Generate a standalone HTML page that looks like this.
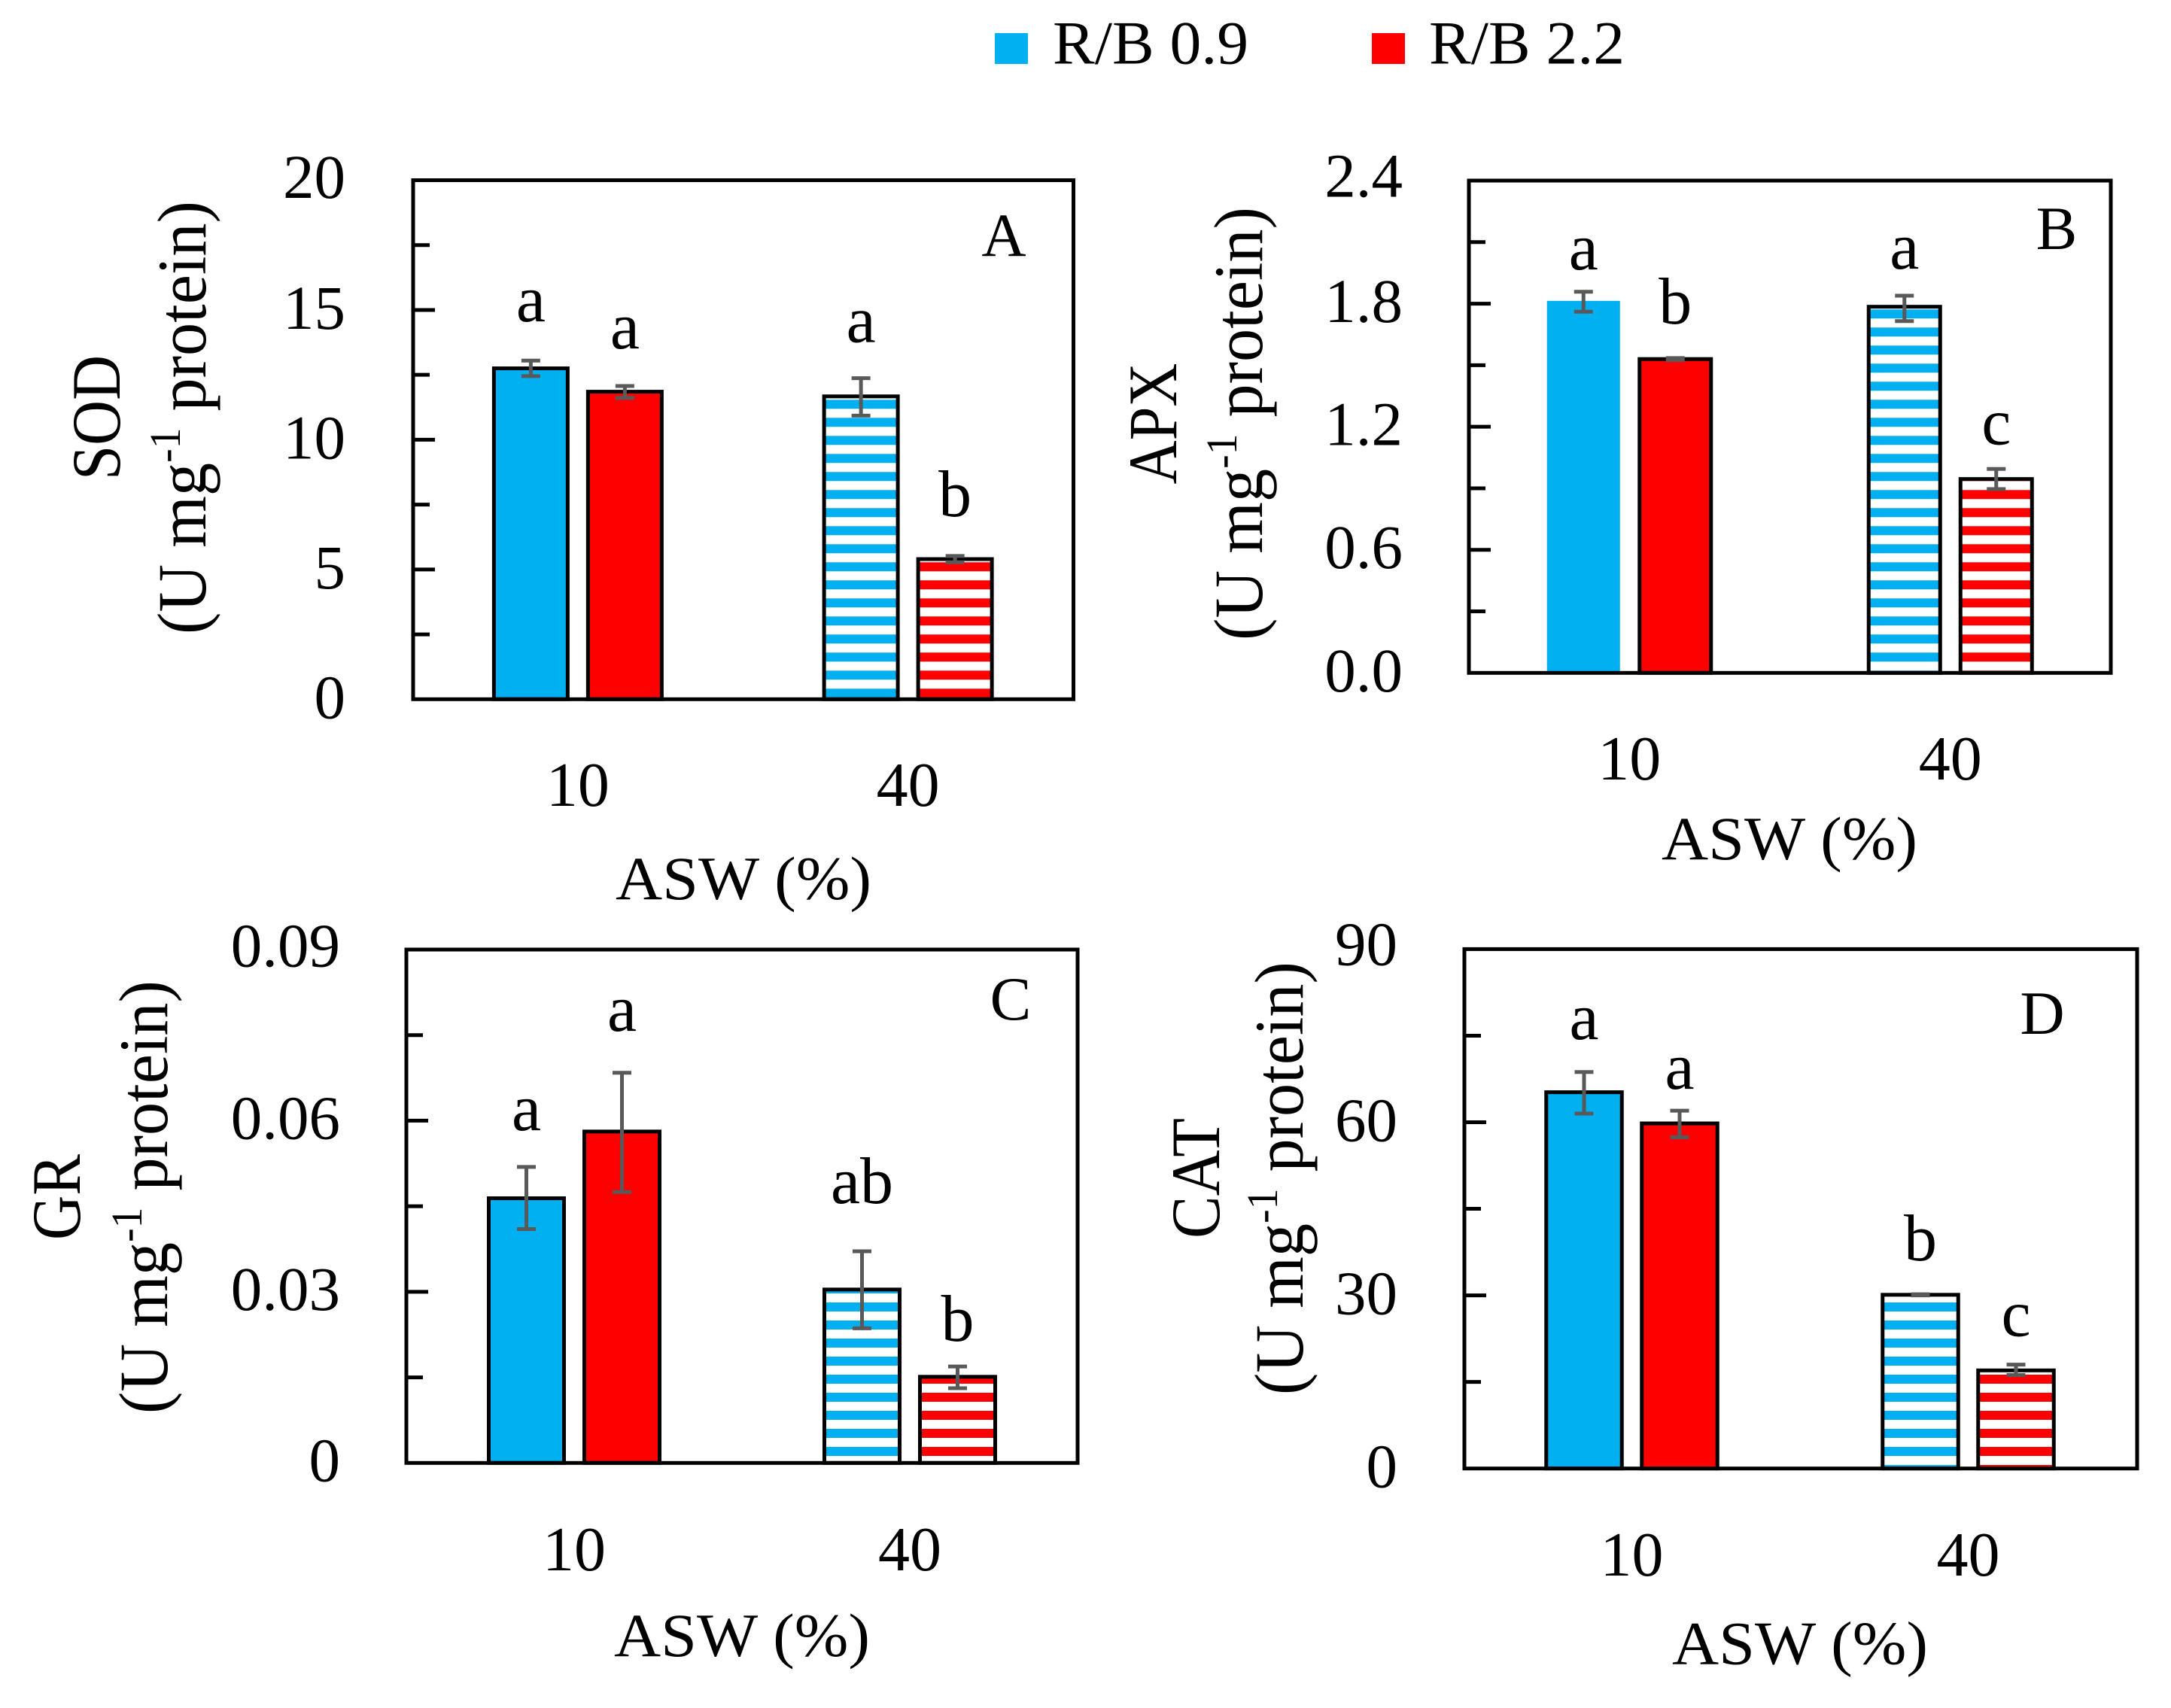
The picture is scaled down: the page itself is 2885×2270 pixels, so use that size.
<!DOCTYPE html>
<html lang="en">
<head>
<meta charset="utf-8">
<title>Antioxidant enzyme activity by ASW and R/B ratio</title>
<style>
html,body{margin:0;padding:0;background:#fff;}
body{width:2885px;height:2270px;overflow:hidden;}
svg{display:block;}
text{font-family:"Liberation Serif",serif;fill:#000;}
</style>
</head>
<body>
<svg id="figure" xmlns="http://www.w3.org/2000/svg" width="2885" height="2270" viewBox="0 0 2885 2270">
  <rect x="0" y="0" width="2885" height="2270" fill="#ffffff"/>
  <defs>
    <pattern id="stripe-blue-a" patternUnits="userSpaceOnUse" width="24" height="24" patternTransform="translate(0 927.3)"><rect width="24" height="24" fill="#fff"/><rect y="12" width="24" height="12" fill="#00b0f0"/></pattern>
    <pattern id="stripe-red-a" patternUnits="userSpaceOnUse" width="24" height="24" patternTransform="translate(0 927.3)"><rect width="24" height="24" fill="#fff"/><rect y="12" width="24" height="12" fill="#ff0000"/></pattern>
    <pattern id="stripe-blue-b" patternUnits="userSpaceOnUse" width="24" height="24" patternTransform="translate(0 879.3)"><rect width="24" height="24" fill="#fff"/><rect y="12" width="24" height="12" fill="#00b0f0"/></pattern>
    <pattern id="stripe-red-b" patternUnits="userSpaceOnUse" width="24" height="24" patternTransform="translate(0 879.3)"><rect width="24" height="24" fill="#fff"/><rect y="12" width="24" height="12" fill="#ff0000"/></pattern>
    <pattern id="stripe-blue-c" patternUnits="userSpaceOnUse" width="24" height="24" patternTransform="translate(0 1935)"><rect width="24" height="24" fill="#fff"/><rect y="12" width="24" height="12" fill="#00b0f0"/></pattern>
    <pattern id="stripe-red-c" patternUnits="userSpaceOnUse" width="24" height="24" patternTransform="translate(0 1935)"><rect width="24" height="24" fill="#fff"/><rect y="12" width="24" height="12" fill="#ff0000"/></pattern>
    <pattern id="stripe-blue-d" patternUnits="userSpaceOnUse" width="24" height="24" patternTransform="translate(0 1935)"><rect width="24" height="24" fill="#fff"/><rect y="12" width="24" height="12" fill="#00b0f0"/></pattern>
    <pattern id="stripe-red-d" patternUnits="userSpaceOnUse" width="24" height="24" patternTransform="translate(0 1935)"><rect width="24" height="24" fill="#fff"/><rect y="12" width="24" height="12" fill="#ff0000"/></pattern>
  </defs>
  <g>
    <g>
      <rect x="1322" y="44" width="44" height="41" fill="#00b0f0"/>
      <text x="1399" y="84.5" font-size="82" textLength="260" lengthAdjust="spacingAndGlyphs">R/B 0.9</text>
    </g>
    <g>
      <rect x="1823" y="44" width="44" height="41" fill="#ff0000"/>
      <text x="1899" y="84.5" font-size="82" textLength="260" lengthAdjust="spacingAndGlyphs">R/B 2.2</text>
    </g>
  </g>
</svg>
<script>
// Shared categories and series
var categories = ['10', '40'];
var seriesNames = ['R/B 0.9', 'R/B 2.2'];

// Panel A: SOD (order: 10 R/B 0.9, 10 R/B 2.2, 40 R/B 0.9, 40 R/B 2.2)
var sodValues = [12.75, 11.85, 11.67, 5.4];
var sodErrUp = [0.30, 0.22, 0.70, 0.12];
var sodErrDown = [0.30, 0.24, 0.74, 0.12];
var sodLetters = ['a', 'a', 'a', 'b'];
var sodTicks = ['0', '5', '10', '15', '20'];

// Panel B: APX
var apxValues = [1.81, 1.53, 1.785, 0.945];
var apxErrUp = [0.048, 0.005, 0.054, 0.049];
var apxErrDown = [0.049, 0.005, 0.07, 0.049];
var apxLetters = ['a', 'b', 'a', 'c'];
var apxTicks = ['0.0', '0.6', '1.2', '1.8', '2.4'];

// Panel C: GR
var grValues = [0.0464, 0.0581, 0.0304, 0.0151];
var grErrUp = [0.0055, 0.0103, 0.0067, 0.0018];
var grErrDown = [0.0054, 0.0106, 0.0068, 0.0020];
var grLetters = ['a', 'a', 'ab', 'b'];
var grTicks = ['0', '0.03', '0.06', '0.09'];

// Panel D: CAT
var catValues = [65.2, 59.8, 30.1, 17.0];
var catErrUp = [3.5, 2.2, 0.1, 1.0];
var catErrDown = [3.7, 2.4, 0.1, 0.8];
var catLetters = ['a', 'a', 'b', 'c'];
var catTicks = ['0', '30', '60', '90'];

var SVGNS = 'http://www.w3.org/2000/svg';
var root = document.getElementById('figure');

function make(parent, tag, attrs, txt) {
  var el = document.createElementNS(SVGNS, tag);
  for (var k in attrs) { el.setAttribute(k, attrs[k]); }
  if (txt !== undefined) { el.textContent = txt; }
  parent.appendChild(el);
  return el;
}

function fitWidth(el, target) {
  var natural = el.getComputedTextLength();
  return target / natural;
}

function drawPanel(p) {
  var g = make(root, 'g', {});
  
  

  var w = p.right - p.left;
  var yMax = parseFloat(p.ticks[p.ticks.length - 1]);
  function yScale(v) { return p.bottom - (v / yMax) * (p.bottom - p.top); }
  function groupX(i) { return p.left + (i + 0.5) * w / categories.length + p.xShift; }

  // Bars
  p.values.forEach(function (v, i) {
    var cat = Math.floor(i / seriesNames.length);
    var ser = i % seriesNames.length;
    var cx = groupX(cat) + (ser === 0 ? -p.offset : p.offset);
    var colour = ser === 0 ? '#00b0f0' : '#ff0000';
    var fill = cat === 0 ? colour : 'url(#stripe-' + (ser === 0 ? 'blue' : 'red') + '-' + p.key + ')';
    var plain = p.plainFirst && i === 0;
    var bar = make(g, 'rect', {
      x: cx - p.barW / 2, y: yScale(v), width: p.barW, height: p.bottom - yScale(v),
      fill: fill, stroke: plain ? colour : '#000000', 'stroke-width': plain ? 2 : 5
    });
    
    
  });

  // Error bars
  p.values.forEach(function (v, i) {
    var cat = Math.floor(i / seriesNames.length);
    var ser = i % seriesNames.length;
    var cx = groupX(cat) + (ser === 0 ? -p.offset : p.offset);
    var hi = yScale(v + p.errUp[i]);
    var lo = yScale(v - p.errDown[i]);
    var eb = make(g, 'path', {
      d: 'M' + (cx - 12.5) + ' ' + hi + 'H' + (cx + 12.5) + 'M' + cx + ' ' + hi + 'V' + lo + 'M' + (cx - 12.5) + ' ' + lo + 'H' + (cx + 12.5),
      fill: 'none', stroke: '#595959', 'stroke-width': 5
    });
    
    

    var letter = make(g, 'text', {
      x: cx, y: hi - p.letterGap[i], 'font-size': 88, 'text-anchor': 'middle'
    }, p.letters[i]);
    
    
  });

  // Plot frame
  var frame = make(g, 'rect', {
    x: p.left, y: p.top, width: w, height: p.bottom - p.top,
    fill: 'none', stroke: '#000000', 'stroke-width': 5
  });
  
  

  // Y ticks (major with minor between)
  var step = yMax / (p.ticks.length - 1);
  p.ticks.forEach(function (label, i) {
    var val = parseFloat(label);
    var ty = yScale(val);
    if (i > 0 && i < p.ticks.length - 1) {
      var major = make(g, 'line', { x1: p.left, x2: p.left + 29, y1: ty, y2: ty, stroke: '#000', 'stroke-width': 5 });
      
      
    }
    if (i < p.ticks.length - 1) {
      var my = yScale(val + step / 2);
      var minor = make(g, 'line', { x1: p.left, x2: p.left + 22, y1: my, y2: my, stroke: '#000', 'stroke-width': 5 });
      
      
    }
    var lift = i === p.ticks.length - 1 ? p.topLift : 0;
    var tl = make(g, 'text', { x: p.tickRight, y: ty + p.tickDy - lift, 'font-size': 83, 'text-anchor': 'end' }, label);
    
    
  });

  // X labels
  categories.forEach(function (c, i) {
    var xl = make(g, 'text', { x: groupX(i), y: p.xLabelY, 'font-size': 84, 'text-anchor': 'middle' }, c);
    
    
  });

  // X title
  var xt = make(g, 'text', { x: p.xTitleX, y: p.xTitleY, 'font-size': 82, 'text-anchor': 'middle', textLength: 340, lengthAdjust: 'spacingAndGlyphs' }, 'ASW (%)');
  
  

  // Panel letter
  var pl = make(g, 'text', { x: p.letterX, y: p.letterY, 'font-size': 82, 'text-anchor': 'middle' }, p.key.toUpperCase());
  
  

  // Y titles
  var t1 = make(g, 'text', { 'font-size': 92, 'text-anchor': 'middle' }, p.name);
  
  
  t1.setAttribute('transform', 'translate(' + p.title1X + ' ' + p.titleY + ') rotate(-90) scale(' + fitWidth(t1, p.title1Len) + ' 1)');

  var t2 = make(g, 'text', { 'font-size': 92, 'text-anchor': 'middle' });
  
  
  make(t2, 'tspan', {}, '(U mg');
  make(t2, 'tspan', { dy: -34, 'font-size': 58 }, '-1');
  make(t2, 'tspan', { dy: 34 }, ' protein)');
  t2.setAttribute('xml:space', 'preserve');
  t2.style.whiteSpace = 'pre';
  t2.setAttribute('transform', 'translate(' + p.title2X + ' ' + p.titleY + ') rotate(-90) scale(' + fitWidth(t2, 576) + ' 1)');
}

drawPanel({
  key: 'a', name: 'SOD', values: sodValues, errUp: sodErrUp, errDown: sodErrDown, letters: sodLetters, ticks: sodTicks,
  left: 549, right: 1426.5, top: 239.5, bottom: 929.3, xShift: -0.5, offset: 62.5, barW: 98,
  letterGap: [52, 50, 48, 53], tickRight: 459, tickDy: 25, topLift: 1.5,
  xLabelY: 1071, xTitleX: 988, xTitleY: 1195, letterX: 1334, letterY: 340,
  title1X: 159, title2X: 273, titleY: 555, title1Len: 166
});
drawPanel({
  key: 'b', name: 'APX', values: apxValues, errUp: apxErrUp, errDown: apxErrDown, letters: apxLetters, ticks: apxTicks,
  left: 1952, right: 2805, top: 240, bottom: 894.3, xShift: 0, offset: 61, barW: 95, plainFirst: true,
  letterGap: [30, 46, 36, 33], tickRight: 1864, tickDy: 24.5, topLift: 3,
  xLabelY: 1036, xTitleX: 2378, xTitleY: 1142, letterX: 2733, letterY: 331,
  title1X: 1563, title2X: 1677, titleY: 563, title1Len: 161
});
drawPanel({
  key: 'c', name: 'GR', values: grValues, errUp: grErrUp, errDown: grErrDown, letters: grLetters, ticks: grTicks,
  left: 540, right: 1432, top: 1262, bottom: 1944.3, xShift: 0, offset: 63.5, barW: 100,
  letterGap: [49, 56, 64, 34], tickRight: 452, tickDy: 24, topLift: 1.5,
  xLabelY: 2087, xTitleX: 986, xTitleY: 2201, letterX: 1343, letterY: 1355,
  title1X: 106, title2X: 222, titleY: 1591, title1Len: 114
});
drawPanel({
  key: 'd', name: 'CAT', values: catValues, errUp: catErrUp, errDown: catErrDown, letters: catLetters, ticks: catTicks,
  left: 1946, right: 2840, top: 1261.4, bottom: 1951.7, xShift: -1, offset: 63.5, barW: 100.5,
  letterGap: [44, 29, 45, 38], tickRight: 1857, tickDy: 25, topLift: 4,
  xLabelY: 2094, xTitleX: 2392, xTitleY: 2211.5, letterX: 2714, letterY: 1374,
  title1X: 1620, title2X: 1731, titleY: 1566, title1Len: 160
});
</script>
</body>
</html>
